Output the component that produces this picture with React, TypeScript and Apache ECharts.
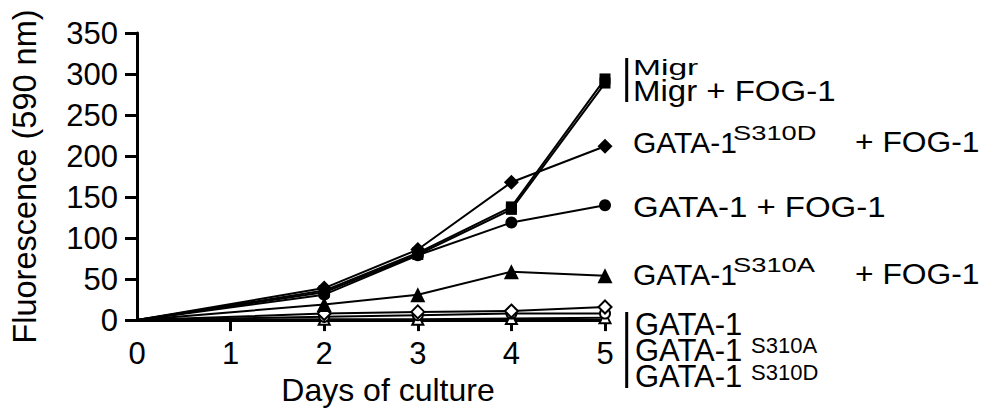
import React, { useEffect, useRef } from "react";
import * as echarts from "echarts";

const days = [0, 2, 3, 4, 5];
const migr = [0, 36, 82, 138, 294];
const migrFog = [0, 34, 80, 135, 289];
const s310dFog = [0, 39, 86, 168, 212];
const gataFog = [0, 31, 79, 119, 140];
const s310aFog = [0, 19, 31, 59, 54];
const gata = [0, 8, 10, 11, 16];
const s310a = [0, 4, 6, 8, 8];
const s310d = [0, 1, 1, 2, 3];
const xTicks = [1, 2, 3, 4, 5];

const FONT = '"Liberation Sans", Arial, Helvetica, sans-serif';

function toData(vals: number[]) {
  return vals.map((v, i) =>
    i === 0 ? { value: [days[i], v], symbol: "none" } : { value: [days[i], v] }
  );
}

function mk(name: string, vals: number[], symbol: string, size: number, open = false) {
  return {
    name,
    type: "line",
    data: toData(vals),
    symbol,
    symbolSize: size,
    showAllSymbol: true,
    lineStyle: { color: "#000", width: 2 },
    itemStyle: open
      ? { color: "#fff", borderColor: "#000", borderWidth: 2 }
      : { color: "#000", borderColor: "#000", borderWidth: 0 },
    emphasis: { disabled: true },
  };
}

export default function App() {
  const ref = useRef<HTMLDivElement>(null);
  useEffect(() => {
    if (!ref.current) return;
    const chart = echarts.init(ref.current, undefined, { renderer: "svg" });
    const lbl = (text: string, x: number, y: number, size = 30, extra: any = {}, lh = 24) => ({
      type: "text",
      x,
      y,
      ...extra,
      style: {
        text,
        x: 0,
        y: 0,
        fill: "#000",
        font: `${size}px ${FONT}`,
        lineHeight: lh,
        align: "left",
        verticalAlign: "middle",
      },
    });
    chart.setOption({
      animation: false,
      backgroundColor: "#fff",
      grid: { left: 137, top: 33, width: 468, height: 290, containLabel: false },
      xAxis: {
        type: "value",
        min: 0,
        max: 5,
        interval: 1,
        name: "Days of culture",
        nameLocation: "middle",
        nameGap: 50,
        nameTextStyle: { fontFamily: FONT, fontSize: 32, color: "#000", padding: [0, 0, 0, 34] },
        axisLine: { show: true, lineStyle: { color: "#000", width: 3 } },
        axisTick: { show: true, customValues: xTicks, length: 11, lineStyle: { color: "#000", width: 3 } },
        axisLabel: { fontFamily: FONT, fontSize: 31, color: "#000", margin: 18 },
        splitLine: { show: false },
      },
      yAxis: {
        type: "value",
        min: 0,
        max: 350,
        interval: 50,
        name: "Fluorescence (590 nm)",
        nameLocation: "middle",
        nameGap: 96,
        nameTextStyle: { fontFamily: FONT, fontSize: 32.5, color: "#000" },
        axisLine: { show: true, lineStyle: { color: "#000", width: 3 } },
        axisTick: { show: true, length: 12, lineStyle: { color: "#000", width: 3 } },
        axisLabel: { fontFamily: FONT, fontSize: 31, color: "#000", margin: 19 },
        splitLine: { show: false },
      },
      series: [
        mk("GATA-1S310D", s310d, "triangle", 11, true),
        mk("GATA-1S310A", s310a, "circle", 10, true),
        mk("GATA-1", gata, "diamond", 13, true),
        mk("GATA-1S310A + FOG-1", s310aFog, "triangle", 15),
        mk("GATA-1 + FOG-1", gataFog, "circle", 12),
        mk("GATA-1S310D + FOG-1", s310dFog, "diamond", 15),
        mk("Migr + FOG-1", migrFog, "rect", 11),
        mk("Migr", migr, "rect", 11),
      ],
      graphic: [
        { type: "line", shape: { x1: 626.7, y1: 58, x2: 626.7, y2: 102 }, style: { stroke: "#000", lineWidth: 3 } },
        lbl("Migr", 633, 67, 30, { scaleX: 1.12, scaleY: 0.75 }, 20),
        lbl("Migr + FOG-1", 633, 90.5, 30, { scaleX: 1.1 }, 22),
        lbl("GATA-1", 633, 142),
        lbl("S310D", 733, 132.5, 21, { scaleX: 1.3 }, 18),
        lbl("+ FOG-1", 855, 142, 30, { scaleX: 1.06 }),
        lbl("GATA-1 + FOG-1", 633, 206.5, 30, { scaleX: 1.1 }),
        lbl("GATA-1", 633, 274),
        lbl("S310A", 733, 265, 21, { scaleX: 1.3 }, 18),
        lbl("+ FOG-1", 855, 274, 30, { scaleX: 1.06 }),
        { type: "line", shape: { x1: 626.7, y1: 312, x2: 626.7, y2: 388 }, style: { stroke: "#000", lineWidth: 3 } },
        lbl("GATA-1", 635, 324, 31, {}, 24),
        lbl("GATA-1", 635, 350, 31, {}, 24),
        lbl("S310A", 751, 345.5, 22, {}, 14),
        lbl("GATA-1", 635, 376.5, 31, {}, 24),
        lbl("S310D", 751, 372.5, 22, {}, 14),
      ],
    });
    return () => chart.dispose();
  }, []);
  return (
    <div
      ref={ref}
      style={{ position: "fixed", left: 0, top: 0, width: 983, height: 411, background: "#fff" }}
    />
  );
}
